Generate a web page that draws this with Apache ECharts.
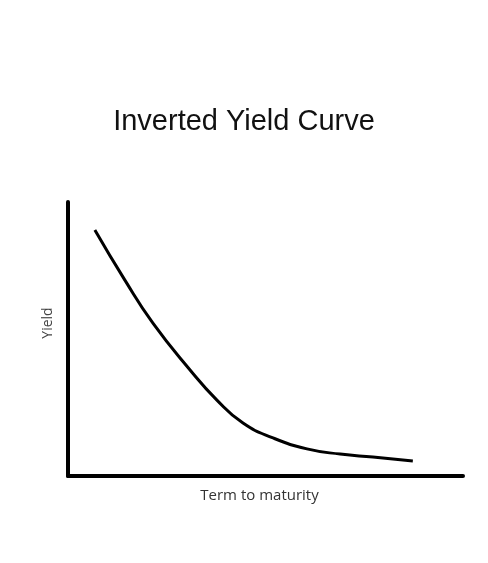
<!DOCTYPE html>
<html>
<head>
<meta charset="utf-8">
<script src="https://cdn.jsdelivr.net/npm/echarts@6/dist/echarts.min.js"></script>
<style>html,body{margin:0;padding:0;background:#fff;}#c{width:488px;height:563px;}</style>
</head>
<body>
<div id="c"></div>
<script>
const titleText = "Inverted Yield Curve";
const xName = "Term to maturity";
const yName = "Yield";
const term = [0.68, 1.44, 2.15, 3.09, 3.77, 4.43, 5.19, 6.05, 6.89, 7.72, 8.73];
const yieldVals = [8.98, 7.15, 5.58, 3.87, 2.77, 1.93, 1.39, 0.99, 0.80, 0.69, 0.55];

const chart = echarts.init(document.getElementById('c'), null, {renderer: 'canvas'});
chart.setOption({
  animation: false,
  backgroundColor: '#fff',
  title: {
    text: titleText, left: 'center', top: 102,
    textStyle: {fontFamily: 'Liberation Sans', fontSize: 29, fontWeight: 'normal', color: '#111'}
  },
  grid: {left: 68, right: 25, top: 202, bottom: 87},
  xAxis: {
    type: 'value', min: 0, max: 10,
    name: xName, nameLocation: 'middle', nameGap: 12,
    nameTextStyle: {fontFamily: 'Open Sans', fontSize: 15, color: '#333', padding: [0, 12, 0, 0]},
    axisLine: {show: true, onZero: false, lineStyle: {color: '#000', width: 4}},
    axisTick: {show: false}, axisLabel: {show: false}, splitLine: {show: false}
  },
  yAxis: {
    type: 'value', min: 0, max: 10,
    name: yName, nameLocation: 'middle', nameGap: 13,
    nameTextStyle: {fontFamily: 'Open Sans', fontSize: 14, color: '#444', padding: [0, 0, 0, 32]},
    axisLine: {show: true, onZero: false, lineStyle: {color: '#000', width: 4}},
    axisTick: {show: false}, axisLabel: {show: false}, splitLine: {show: false}
  },
  series: [{
    type: 'line', smooth: 0.5, showSymbol: false,
    data: term.map((t, i) => [t, yieldVals[i]]),
    lineStyle: {color: '#000', width: 3}
  }]
});
</script>
</body>
</html>
